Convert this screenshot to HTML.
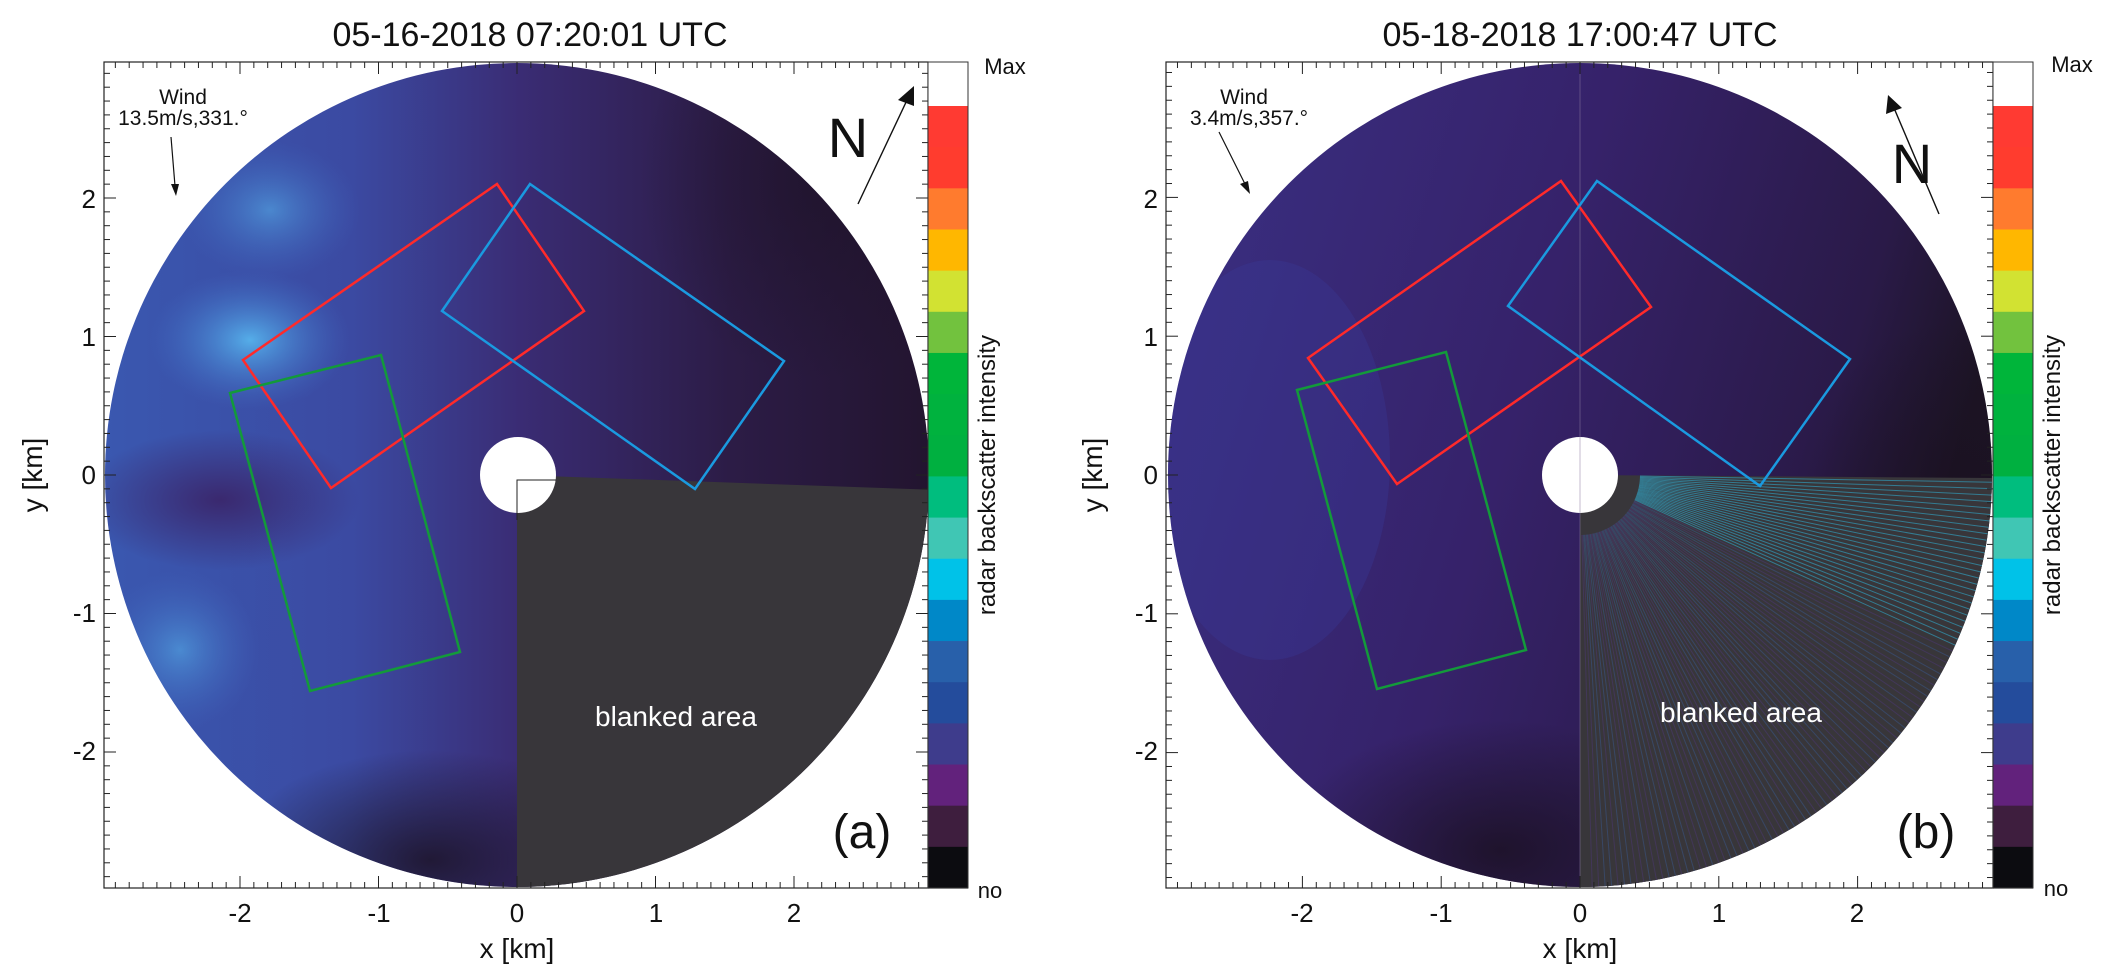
<!DOCTYPE html>
<html><head><meta charset="utf-8"><style>
html,body{margin:0;padding:0;background:#fff;}
svg text{font-family:"Liberation Sans",Arial,sans-serif;fill:#111;}
</style></head><body>
<svg id="s" width="2101" height="974" viewBox="0 0 2101 974" xmlns="http://www.w3.org/2000/svg">
<defs>
 <radialGradient id="ga1" cx="0.5" cy="0.5" r="0.5"><stop offset="0" stop-color="#58b8f0" stop-opacity="0.9"/><stop offset="1" stop-color="#4070c8" stop-opacity="0"/></radialGradient>
 <radialGradient id="gdk" cx="0.5" cy="0.5" r="0.5"><stop offset="0" stop-color="#1a1020" stop-opacity="0.8"/><stop offset="1" stop-color="#1a1020" stop-opacity="0"/></radialGradient>
 <radialGradient id="gpu" cx="0.5" cy="0.5" r="0.5"><stop offset="0" stop-color="#3a2468" stop-opacity="0.9"/><stop offset="1" stop-color="#3a2468" stop-opacity="0"/></radialGradient>
 <linearGradient id="la" x1="0" y1="0" x2="1" y2="0"><stop offset="0" stop-color="#3a58b0"/><stop offset="0.3" stop-color="#3b4aa2"/><stop offset="0.5" stop-color="#3a2c74"/><stop offset="0.75" stop-color="#2c1c46"/><stop offset="1" stop-color="#22142e"/></linearGradient>
 <linearGradient id="lb" x1="0" y1="0" x2="1" y2="0.3"><stop offset="0" stop-color="#3a3084"/><stop offset="0.5" stop-color="#36226a"/><stop offset="0.85" stop-color="#2a1a48"/><stop offset="1" stop-color="#1c1424"/></linearGradient>
 <clipPath id="ca"><circle cx="517" cy="475" r="412"/></clipPath>
 <clipPath id="cb"><circle cx="1580" cy="475" r="412"/></clipPath>
</defs>

<!-- Panel A disc -->
<g clip-path="url(#ca)">
 <rect x="100" y="60" width="840" height="840" fill="url(#la)"/>
 <ellipse cx="250" cy="340" rx="100" ry="70" fill="url(#ga1)"/>
 <ellipse cx="270" cy="210" rx="90" ry="70" fill="url(#ga1)" opacity="0.6"/>
 <ellipse cx="180" cy="650" rx="80" ry="80" fill="url(#ga1)" opacity="0.6"/>
 <ellipse cx="220" cy="500" rx="140" ry="70" fill="url(#gpu)"/>
 <ellipse cx="430" cy="860" rx="200" ry="110" fill="url(#gdk)"/>
 <ellipse cx="820" cy="180" rx="180" ry="200" fill="url(#gdk)" opacity="0.6"/>
 <polygon points="517,475 940,490 940,900 517,900" fill="#38363a"/>
</g>
<circle cx="518" cy="475" r="38" fill="#fff"/>
<polyline points="517,520 517,480 556,480" fill="none" stroke="#222" stroke-width="1"/>

<!-- Panel B disc -->
<g clip-path="url(#cb)">
 <rect x="1160" y="60" width="840" height="840" fill="url(#lb)"/>
 <ellipse cx="1270" cy="460" rx="120" ry="200" fill="#3a3a98" opacity="0.35"/>
 <ellipse cx="1500" cy="850" rx="220" ry="130" fill="url(#gdk)"/>
 <ellipse cx="1950" cy="520" rx="160" ry="200" fill="url(#gdk)" opacity="0.7"/>
 <polygon points="1580,475 2000,478 2000,900 1580,900" fill="#38363a"/>
 <g stroke-width="1" id="rays"></g>
</g>
<circle cx="1580" cy="475" r="38" fill="#fff"/>
<line x1="1580" y1="65" x2="1580" y2="885" stroke="#8a7aa0" stroke-width="1" opacity="0.5"/>

<!-- boxes A -->
<polygon points="243,360 497,184 584,311 331,488" fill="none" stroke="#ff2a2a" stroke-width="2.5"/>
<polygon points="530,184 784,361 695,489 442,311" fill="none" stroke="#1a9ae0" stroke-width="2.5"/>
<polygon points="230,393 381,355 460,652 310,691" fill="none" stroke="#139a3a" stroke-width="2.5"/>
<!-- boxes B -->
<polygon points="1308,358 1561,181 1651,307 1397,484" fill="none" stroke="#ff2a2a" stroke-width="2.5"/>
<polygon points="1597,181 1850,359 1760,486 1508,306" fill="none" stroke="#1a9ae0" stroke-width="2.5"/>
<polygon points="1297,390 1446,352 1526,650 1377,689" fill="none" stroke="#139a3a" stroke-width="2.5"/>

<!-- frames -->
<rect x="104" y="62" width="824" height="826" fill="none" stroke="#222" stroke-width="1.2"/>
<rect x="1166" y="62" width="827" height="826" fill="none" stroke="#222" stroke-width="1.2"/>
<g id="ticks" stroke="#222" stroke-width="1"></g>

<g id="cbA"></g><g id="cbB"></g>

<text x="530" y="46" font-size="34" text-anchor="middle">05-16-2018 07:20:01 UTC</text>
<text x="1580" y="46" font-size="34" text-anchor="middle">05-18-2018 17:00:47 UTC</text>

<g font-size="26" text-anchor="middle">
<text x="240" y="922">-2</text><text x="379" y="922">-1</text><text x="517" y="922">0</text><text x="656" y="922">1</text><text x="794" y="922">2</text>
<text x="1302" y="922">-2</text><text x="1441" y="922">-1</text><text x="1580" y="922">0</text><text x="1719" y="922">1</text><text x="1857" y="922">2</text>
</g>
<g font-size="26" text-anchor="end">
<text x="96" y="208">2</text><text x="96" y="346">1</text><text x="96" y="484">0</text><text x="96" y="622">-1</text><text x="96" y="760">-2</text>
<text x="1158" y="208">2</text><text x="1158" y="346">1</text><text x="1158" y="484">0</text><text x="1158" y="622">-1</text><text x="1158" y="760">-2</text>
</g>
<text x="517" y="958" font-size="28" text-anchor="middle">x [km]</text>
<text x="1580" y="958" font-size="28" text-anchor="middle">x [km]</text>
<text transform="translate(42,475) rotate(-90)" font-size="28" text-anchor="middle">y [km]</text>
<text transform="translate(1102,475) rotate(-90)" font-size="28" text-anchor="middle">y [km]</text>

<text x="1005" y="74" font-size="22" text-anchor="middle">Max</text>
<text x="990" y="898" font-size="22" text-anchor="middle">no</text>
<text transform="translate(995,475) rotate(-90)" font-size="24" text-anchor="middle">radar backscatter intensity</text>
<text x="2072" y="72" font-size="22" text-anchor="middle">Max</text>
<text x="2056" y="896" font-size="22" text-anchor="middle">no</text>
<text transform="translate(2060,475) rotate(-90)" font-size="24" text-anchor="middle">radar backscatter intensity</text>

<text x="183" y="104" font-size="21" text-anchor="middle">Wind</text>
<text x="183" y="125" font-size="21" text-anchor="middle">13.5m/s,331.°</text>
<line x1="171" y1="137" x2="175" y2="186" stroke="#111" stroke-width="1.2"/>
<polygon points="176,196 171,184 179,184" fill="#111"/>
<text x="848" y="157" font-size="56" text-anchor="middle">N</text>
<line x1="858" y1="204" x2="908" y2="98" stroke="#111" stroke-width="1.4"/>
<polygon points="914,86 898,100 914,106" fill="#111"/>
<text x="862" y="848" font-size="48" text-anchor="middle">(a)</text>
<text x="676" y="726" font-size="28" text-anchor="middle" style="fill:#fff">blanked area</text>

<text x="1244" y="104" font-size="21" text-anchor="middle">Wind</text>
<text x="1249" y="125" font-size="21" text-anchor="middle">3.4m/s,357.°</text>
<line x1="1219" y1="132" x2="1246" y2="186" stroke="#111" stroke-width="1.2"/>
<polygon points="1250,194 1240,184 1248,181" fill="#111"/>
<text x="1912" y="183" font-size="56" text-anchor="middle">N</text>
<line x1="1939" y1="214" x2="1894" y2="108" stroke="#111" stroke-width="1.4"/>
<polygon points="1888,95 1886,114 1902,108" fill="#111"/>
<text x="1926" y="848" font-size="48" text-anchor="middle">(b)</text>
<text x="1741" y="722" font-size="28" text-anchor="middle" style="fill:#fff">blanked area</text>
</svg>
<script>
var NS="http://www.w3.org/2000/svg";
function el(p,n,a){var e=document.createElementNS(NS,n);for(var k in a)e.setAttribute(k,a[k]);p.appendChild(e);return e;}
var T=document.getElementById('ticks');
function ticks(x0,x1,y0,y1,cx,cy,k){
 for(var i=-30;i<=30;i++){var v=i/10,big=(i%10==0),L=big?12:6;
  var x=cx+v*k; if(x>=x0-0.5&&x<=x1+0.5){el(T,'line',{x1:x,y1:y1,x2:x,y2:y1-L});el(T,'line',{x1:x,y1:y0,x2:x,y2:y0+L});}
  var y=cy-v*k; if(y>=y0-0.5&&y<=y1+0.5){el(T,'line',{x1:x0,y1:y,x2:x0+L,y2:y});el(T,'line',{x1:x1,y1:y,x2:x1-L,y2:y});}
 }}
ticks(104,928,62,888,517,475,138.5);
ticks(1166,1993,62,888,1580,475,138.8);
var C=["#ff3a32","#ff3c2e","#ff7b2e","#ffb700","#d2e232","#72c23e","#00b53a","#00b23e","#00b040","#00bd7e","#40c6b4","#00c2e8","#0088c8","#2860aa","#244c9c","#3e3c8c","#62227c","#3e1e3e","#0c0c10"];
function cb(id,x,w,top,bot){var g=document.getElementById(id);var s=(bot-top-44)/19;
 el(g,'rect',{x:x,y:top,width:w,height:44,fill:'#fff'});
 for(var i=0;i<19;i++)el(g,'rect',{x:x,y:top+44+i*s,width:w,height:s+0.6,fill:C[i]});
 el(g,'rect',{x:x,y:top,width:w,height:bot-top,fill:'none',stroke:'#333','stroke-width':1});}
cb('cbA',928,40,62,888);cb('cbB',1993,40,62,888);
var R=document.getElementById('rays');
for(var a=1;a<89;a+=0.9){var r=a*Math.PI/180;var c=(a<25?'#30c0e8':(a%3<1.5?'#5a3aa0':'#3a70c8'));
 el(R,'line',{x1:1580+60*Math.cos(r),y1:475+60*Math.sin(r),x2:1580+420*Math.cos(r),y2:475+420*Math.sin(r),stroke:c,opacity:(a<25?0.5:0.3)});}
</script>
</body></html>
